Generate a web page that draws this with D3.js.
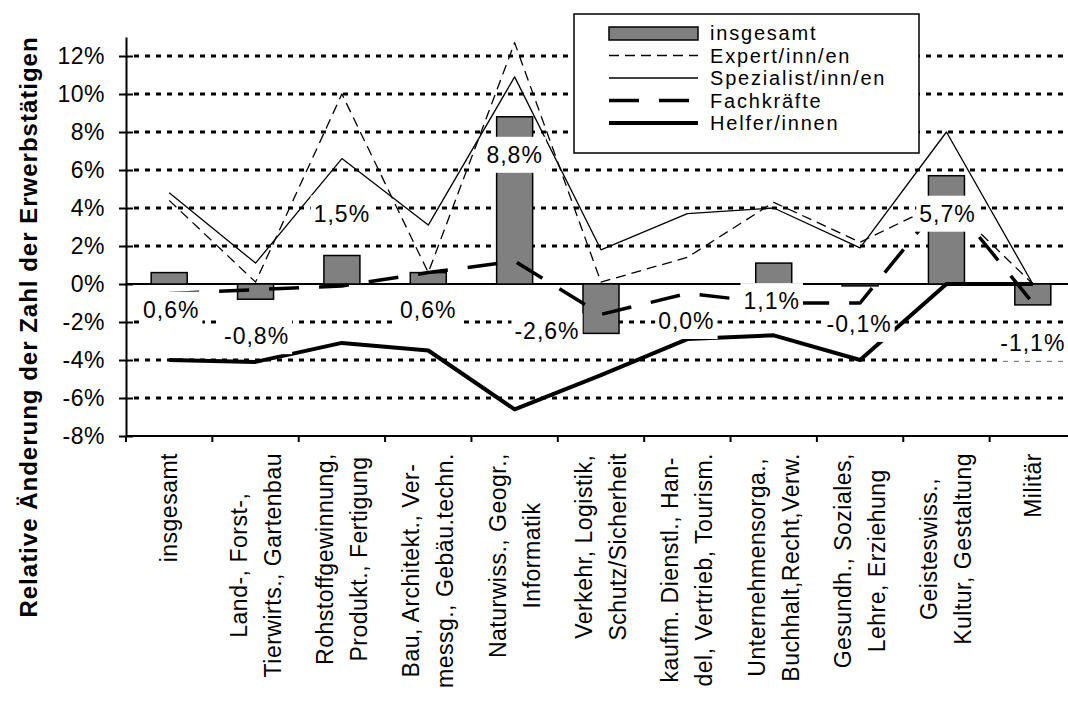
<!DOCTYPE html>
<html>
<head>
<meta charset="utf-8">
<script src="https://cdn.jsdelivr.net/npm/d3@7"></script>
<style>
  body { margin: 0; background: #fff; }
  svg { display: block; font-family: "Liberation Sans", Arial, sans-serif; }
</style>
</head>
<body>
<svg width="1068" height="701"></svg>
<script>
// categories (line breaks as in the chart)
var categories = [
  ["insgesamt"],
  ["Land-, Forst-,", "Tierwirts., Gartenbau"],
  ["Rohstoffgewinnung,", "Produkt., Fertigung"],
  ["Bau, Architekt., Ver-", "messg., Gebäu.techn."],
  ["Naturwiss., Geogr.,", "Informatik"],
  ["Verkehr, Logistik,", "Schutz/Sicherheit"],
  ["kaufm. Dienstl., Han-", "del, Vertrieb, Tourism."],
  ["Unternehmensorga.,", "Buchhalt,Recht,Verw."],
  ["Gesundh., Soziales,", "Lehre, Erziehung"],
  ["Geisteswiss.,", "Kultur, Gestaltung"],
  ["Militär"]
];
var seriesNames = ["insgesamt", "Expert/inn/en", "Spezialist/inn/en", "Fachkräfte", "Helfer/innen"];

// values in percent
var insgesamt    = [0.6, -0.8, 1.5, 0.6, 8.8, -2.6, 0.0, 1.1, -0.1, 5.7, -1.1];
var experten     = [4.4, 0.1, 10.0, 0.6, 12.7, 0.1, 1.4, 4.3, 2.2, 4.4, 0.0];
var spezialisten = [4.8, 1.1, 6.6, 3.1, 10.9, 1.8, 3.7, 4.0, 1.9, 8.0, 0.0];
var fachkraefte  = [-0.5, -0.3, -0.1, 0.6, 1.2, -1.6, -0.5, -1.0, -1.0, 4.6, -1.0];
var helfer       = [-4.0, -4.1, -3.1, -3.5, -6.6, -4.8, -2.9, -2.7, -4.0, 0.0, 0.0];

var yTicks = [-8, -6, -4, -2, 0, 2, 4, 6, 8, 10, 12];

var svg = d3.select("svg");
var fontSize = 23;

var x = d3.scaleBand()
    .domain(d3.range(categories.length))
    .range([126, 1076]);

var y = d3.scaleLinear()
    .domain([-8, 13])
    .range([436, 37]);

var fmt = function(v) { return v.toFixed(1).replace(".", ",") + "%"; };
var cx = function(i) { return x(i) + x.bandwidth() / 2; };

// dotted grid
svg.append("g")
  .selectAll("line")
  .data(yTicks.filter(function(d) { return d !== 0 && d !== -8; }))
  .enter().append("line")
    .attr("x1", x.range()[0] + 8)
    .attr("x2", x.range()[1])
    .attr("y1", function(d) { return y(d); })
    .attr("y2", function(d) { return y(d); })
    .attr("stroke", "#000")
    .attr("stroke-width", 3)
    .attr("stroke-dasharray", "5,6");

// zero line
svg.append("line")
    .attr("x1", x.range()[0]).attr("x2", x.range()[1])
    .attr("y1", y(0)).attr("y2", y(0))
    .attr("stroke", "#000").attr("stroke-width", 2);

// bars
var barW = x.bandwidth() * 0.417;
svg.append("g")
  .selectAll("rect")
  .data(insgesamt)
  .enter().append("rect")
    .attr("x", function(d, i) { return cx(i) - barW / 2; })
    .attr("y", function(d) { return y(Math.max(0, d)); })
    .attr("width", barW)
    .attr("height", function(d) { return Math.abs(y(d) - y(0)); })
    .attr("fill", "#808080")
    .attr("stroke", "#000")
    .attr("stroke-width", 1.5);

// lines
var lineStyles = [
  { data: experten,     width: 1.3, dash: "10,6" },
  { data: spezialisten, width: 1.3, dash: null },
  { data: fachkraefte,  width: 3.5, dash: "30,20" },
  { data: helfer,       width: 4,   dash: null }
];
var line = d3.line()
    .x(function(d, i) { return cx(i); })
    .y(function(d) { return y(d); });

lineStyles.forEach(function(s) {
  svg.append("path")
      .datum(s.data)
      .attr("d", line)
      .attr("fill", "none")
      .attr("stroke", "#000")
      .attr("stroke-width", s.width)
      .attr("stroke-dasharray", s.dash)
      .attr("stroke-linejoin", "round");
});

// data labels (offsets from bar end, px)
var labelOffsets = [[2, 37], [1, 37], [0, -42], [0, 37], [0, 38], [-54, -2], [-1, 37], [-2, 38], [-1, 38], [1, 38], [0, 38]];
var lab = svg.append("g")
  .selectAll("g")
  .data(insgesamt)
  .enter().append("g")
    .attr("transform", function(d, i) {
      return "translate(" + (cx(i) + labelOffsets[i][0]) + "," + (y(d) + labelOffsets[i][1]) + ")";
    });
lab.append("rect").attr("fill", "#fff");
lab.append("text")
    .attr("text-anchor", "middle")
    .attr("dominant-baseline", "central")
    .attr("font-size", fontSize)
    .attr("letter-spacing", 1)
    .text(function(d) { return fmt(d); });
lab.each(function() {
  var g = d3.select(this);
  var w = g.select("text").node().getComputedTextLength();
  g.select("rect").attr("x", -w / 2 - 3).attr("y", -18).attr("width", w + 6).attr("height", 36);
});

// y axis with cross ticks
var yAxis = svg.append("g")
    .attr("transform", "translate(" + x.range()[0] + ",0)")
    .call(d3.axisLeft(y).tickValues(yTicks).tickSizeInner(7).tickSizeOuter(0).tickPadding(14)
      .tickFormat(function(d) { return d + "%"; }));
yAxis.select(".domain").attr("stroke-width", 2);
yAxis.selectAll(".tick line").attr("x2", 7).attr("x1", -7).attr("stroke-width", 2);
yAxis.selectAll(".tick text")
    .attr("font-size", fontSize)
    .attr("letter-spacing", 0.5)
    .attr("font-family", "Liberation Sans, Arial, sans-serif")
    .attr("fill", "#000");

// bottom axis
var xAxisG = svg.append("g");
xAxisG.append("line")
    .attr("x1", x.range()[0]).attr("x2", x.range()[1])
    .attr("y1", y(-8)).attr("y2", y(-8))
    .attr("stroke", "#000").attr("stroke-width", 2);
xAxisG.selectAll(".tk")
  .data(d3.range(categories.length + 1))
  .enter().append("line")
    .attr("x1", function(i) { return x.range()[0] + i * x.step(); })
    .attr("x2", function(i) { return x.range()[0] + i * x.step(); })
    .attr("y1", y(-8)).attr("y2", y(-8) + 6)
    .attr("stroke", "#000").attr("stroke-width", 2);

// category labels, rotated
var catG = svg.append("g")
  .selectAll("g")
  .data(categories)
  .enter().append("g")
    .attr("transform", function(d, i) { return "translate(" + cx(i) + "," + (y(-8) + 17) + ") rotate(-90)"; });
catG.each(function(lines) {
  var g = d3.select(this);
  var texts = g.selectAll("text")
    .data(lines)
    .enter().append("text")
      .attr("font-size", fontSize)
      .attr("letter-spacing", 0.5)
      .attr("text-anchor", "middle")
      .attr("dominant-baseline", "central")
      .attr("y", function(d, j) { return (j - (lines.length - 1) / 2) * 34; })
      .text(function(d) { return d; });
  var maxW = d3.max(texts.nodes(), function(n) { return n.getComputedTextLength(); });
  texts.attr("x", -maxW / 2);
});

// y title
svg.append("text")
    .attr("transform", "translate(28,327) rotate(-90)")
    .attr("text-anchor", "middle")
    .attr("dominant-baseline", "central")
    .attr("font-size", 24)
    .attr("letter-spacing", 1)
    .attr("font-weight", "bold")
    .text("Relative Änderung der Zahl der Erwerbstätigen");

// legend
var legend = svg.append("g");
legend.append("rect")
    .attr("x", 574).attr("y", 14).attr("width", 345).attr("height", 139)
    .attr("fill", "#fff").attr("stroke", "#000").attr("stroke-width", 1.5);
var rowY = function(i) { return 33 + i * 22.5; };
legend.append("rect")
    .attr("x", 609).attr("y", rowY(0) - 6).attr("width", 89).attr("height", 13)
    .attr("fill", "#808080").attr("stroke", "#000").attr("stroke-width", 1.5);
lineStyles.forEach(function(s, k) {
  legend.append("line")
      .attr("x1", 609).attr("x2", 698)
      .attr("y1", rowY(k + 1)).attr("y2", rowY(k + 1))
      .attr("stroke", "#000")
      .attr("stroke-width", s.width)
      .attr("stroke-dasharray", s.dash);
});
legend.selectAll("text")
  .data(seriesNames)
  .enter().append("text")
    .attr("x", 710)
    .attr("y", function(d, i) { return rowY(i); })
    .attr("dominant-baseline", "central")
    .attr("font-size", 20)
    .attr("letter-spacing", 1.8)
    .text(function(d) { return d; });
</script>
</body>
</html>
